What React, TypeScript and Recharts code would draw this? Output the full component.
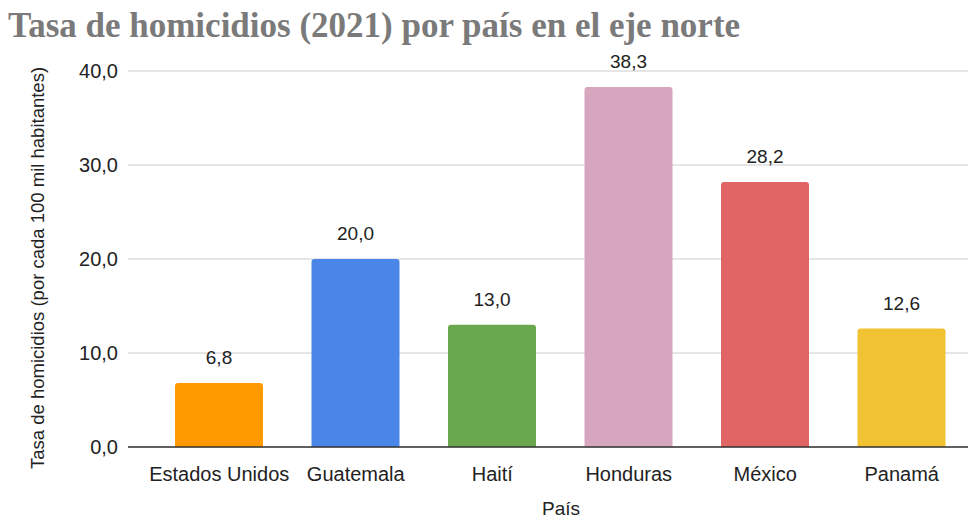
import React from "react";
import { BarChart, Bar, XAxis, YAxis, CartesianGrid, Cell, LabelList } from "recharts";

const countries = ["Estados Unidos", "Guatemala", "Haití", "Honduras", "México", "Panamá"];
const rates = [6.8, 20.0, 13.0, 38.3, 28.2, 12.6];
const colors = ["#FF9900", "#4A86E8", "#6AA84F", "#D5A6BD", "#E06666", "#F1C232"];
const yTicks = [0, 10, 20, 30, 40];

const title = "Tasa de homicidios (2021) por país en el eje norte";
const yLabel = "Tasa de homicidios (por cada 100 mil habitantes)";
const xLabel = "País";

const data = countries.map((c, i) => ({ name: c, value: rates[i], color: colors[i] }));

const fmt = (v: number) => v.toFixed(1).replace(".", ",");
const FONT = "'Liberation Sans', Arial, sans-serif";

const XTick = (props: any) => {
  const { x, y, payload } = props;
  return (
    <text x={x} y={y + 26} textAnchor="middle" fontFamily={FONT} fontSize={20} fill="#222">
      {payload.value}
    </text>
  );
};

const YTick = (props: any) => {
  const { y, payload } = props;
  return (
    <text x={118} y={y + 7} textAnchor="end" fontFamily={FONT} fontSize={20} fill="#222">
      {fmt(payload.value)}
    </text>
  );
};

const TopLabel = (props: any) => {
  const { x, y, width, value } = props;
  return (
    <text x={x + width / 2} y={y - 19} textAnchor="middle" fontFamily={FONT} fontSize={19} fill="#222">
      {fmt(value)}
    </text>
  );
};

export default function App() {
  return (
    <div style={{ position: "fixed", left: 0, top: 0, width: 968, height: 520, overflow: "hidden", background: "#fff" }}>
      <BarChart width={980} height={520} data={data} margin={{ top: 71, right: 10, bottom: 0, left: 0 }}>
        <CartesianGrid vertical={false} stroke="#cccccc" />
        <XAxis
          dataKey="name"
          height={73}
          padding={{ left: 23, right: 0 }}
          tickLine={false}
          axisLine={{ stroke: "#333", strokeWidth: 1.5 }}
          tick={<XTick />}
          interval={0}
        />
        <YAxis
          width={128}
          domain={[0, 40]}
          ticks={yTicks}
          axisLine={false}
          tickLine={false}
          tick={<YTick />}
        />
        <Bar dataKey="value" barSize={88} radius={[3, 3, 0, 0]} isAnimationActive={false}>
          {data.map((d, i) => (
            <Cell key={i} fill={d.color} />
          ))}
          <LabelList dataKey="value" content={<TopLabel />} />
        </Bar>
        <text
          x={8}
          y={37}
          fontFamily="'Liberation Serif', 'Times New Roman', serif"
          fontWeight="bold"
          fontSize={35}
          fill="#7a7a7a"
        >
          {title}
        </text>
        <text
          x={37}
          y={268}
          transform="rotate(-90 37 268)"
          textAnchor="middle"
          dominantBaseline="central"
          fontFamily={FONT}
          fontSize={18.5}
          fill="#222"
        >
          {yLabel}
        </text>
        <text x={561} y={515} textAnchor="middle" fontFamily={FONT} fontSize={19} fill="#222">
          {xLabel}
        </text>
      </BarChart>
    </div>
  );
}
